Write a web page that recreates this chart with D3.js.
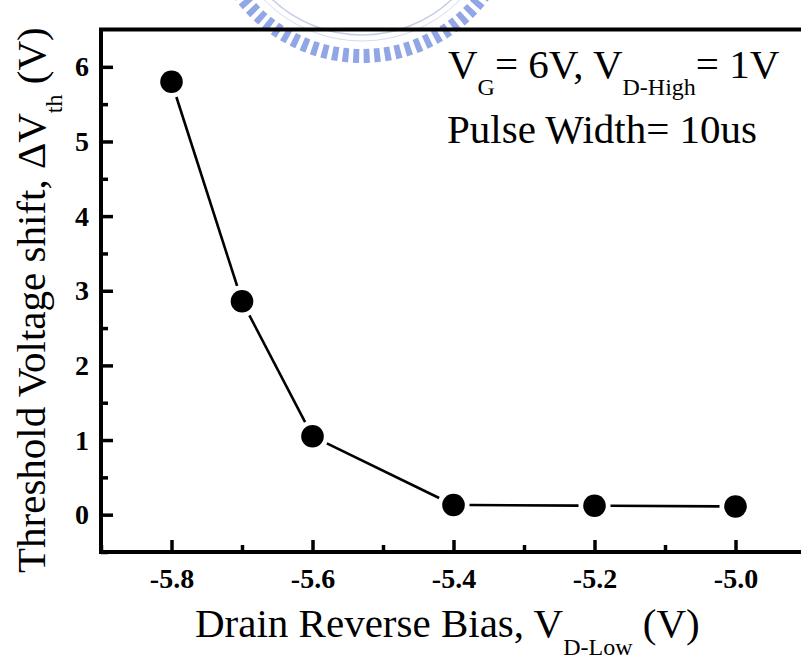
<!DOCTYPE html>
<html>
<head>
<meta charset="utf-8">
<script src="https://cdn.jsdelivr.net/npm/d3@7.9.0/dist/d3.min.js"></script>
<style>
  html, body { margin: 0; padding: 0; background: #fff; }
  svg { display: block; overflow: hidden; }
  .tick text { font-family: "Times New Roman", "Liberation Serif", serif; font-weight: bold; font-size: 28px; fill: #000; }
  .label { font-family: "Times New Roman", "Liberation Serif", serif; fill: #000; }
</style>
</head>
<body>
<svg id="chart" width="801" height="659"></svg>
<script>
// data
const drainLow = [-5.8, -5.7, -5.6, -5.4, -5.2, -5.0];
const deltaVth = [5.80, 2.86, 1.05, 0.13, 0.12, 0.11];

const xTicks = [-5.8, -5.6, -5.4, -5.2, -5.0];
const xMinor = [-5.9, -5.7, -5.5, -5.3, -5.1];
const yTicks = [0, 1, 2, 3, 4, 5, 6];
const yMinor = [-0.5, 0.5, 1.5, 2.5, 3.5, 4.5, 5.5];

const svg = d3.select("#chart");

const plotLeft = 101, plotRight = 806, plotTop = 29.5, plotBottom = 552;

const x = d3.scaleLinear().domain([-5.9, -4.9]).range([plotLeft, plotRight]);
const y = d3.scaleLinear().domain([-0.5, 6.5]).range([plotBottom, plotTop]);

// faint logo watermark (blue toothed ring, mostly cropped)
const wm = svg.append("g").attr("transform", "translate(362,-96)");
wm.append("circle").attr("r", 152)
  .attr("fill", "none")
  .attr("stroke", "#91a6e4")
  .attr("stroke-width", 14)
  .attr("stroke-dasharray", "6 4.5");
wm.append("circle").attr("r", 131)
  .attr("fill", "none")
  .attr("stroke", "#c6cde6")
  .attr("stroke-width", 1.5);
wm.append("circle").attr("r", 137)
  .attr("fill", "none")
  .attr("stroke", "#d6dbee")
  .attr("stroke-width", 1);

// minor ticks
svg.append("g")
  .attr("transform", `translate(0,${plotBottom})`)
  .call(d3.axisBottom(x).tickValues(xMinor).tickSize(-7).tickSizeOuter(0).tickFormat(""))
  .call(g => g.select(".domain").remove())
  .call(g => g.selectAll(".tick line").attr("stroke-width", 3.5));

svg.append("g")
  .attr("transform", `translate(${plotLeft},0)`)
  .call(d3.axisLeft(y).tickValues(yMinor).tickSize(-7).tickSizeOuter(0).tickFormat(""))
  .call(g => g.select(".domain").remove())
  .call(g => g.selectAll(".tick line").attr("stroke-width", 3.5));

// major axes
svg.append("g")
  .attr("transform", `translate(0,${plotBottom})`)
  .call(d3.axisBottom(x).tickValues(xTicks).tickSize(-12).tickSizeOuter(0).tickPadding(16)
    .tickFormat(d => d.toFixed(1)))
  .call(g => g.select(".domain").remove())
  .call(g => g.selectAll(".tick line").attr("stroke-width", 3.5));

svg.append("g")
  .attr("transform", `translate(${plotLeft},0)`)
  .call(d3.axisLeft(y).tickValues(yTicks).tickSize(-12).tickSizeOuter(0).tickPadding(12)
    .tickFormat(d => String(d)))
  .call(g => g.select(".domain").remove())
  .call(g => g.selectAll(".tick line").attr("stroke-width", 3.5));

// frame
svg.append("path")
  .attr("d", `M${plotRight},${plotTop}H${plotLeft}V${plotBottom}H${plotRight}`)
  .attr("fill", "none")
  .attr("stroke", "#000")
  .attr("stroke-width", 4);

// line segments with gaps around the markers
const pts = drainLow.map((d, i) => [x(d), y(deltaVth[i])]);
const r = 11.3, gap = 16;
const segs = d3.pairs(pts).map(([a, b]) => {
  const dx = b[0] - a[0], dy = b[1] - a[1];
  const len = Math.hypot(dx, dy);
  const ux = dx / len, uy = dy / len;
  return [a[0] + ux * gap, a[1] + uy * gap, b[0] - ux * gap, b[1] - uy * gap];
});

svg.append("g").selectAll("line")
  .data(segs)
  .join("line")
  .attr("x1", d => d[0]).attr("y1", d => d[1])
  .attr("x2", d => d[2]).attr("y2", d => d[3])
  .attr("stroke", "#000")
  .attr("stroke-width", 2.6);

svg.append("g").selectAll("circle")
  .data(pts)
  .join("circle")
  .attr("cx", d => d[0])
  .attr("cy", d => d[1])
  .attr("r", r)
  .attr("fill", "#000");

// annotation
const note = svg.append("text").attr("class", "label").attr("font-size", 41);
note.append("tspan").attr("x", 448).attr("y", 78).text("V");
note.append("tspan").attr("dy", 17).attr("font-size", 24).text("G");
note.append("tspan").attr("dy", -17).text("= 6V, V");
note.append("tspan").attr("dy", 17).attr("font-size", 24).text("D-High");
note.append("tspan").attr("dy", -17).text("= 1V");

svg.append("text").attr("class", "label")
  .attr("font-size", 41)
  .attr("x", 447).attr("y", 143)
  .text("Pulse Width= 10us");

// x title
const xt = svg.append("text").attr("class", "label").attr("font-size", 41)
  .attr("x", 195).attr("y", 637);
xt.append("tspan").text("Drain Reverse Bias, V");
xt.append("tspan").attr("dy", 18).attr("font-size", 24).text("D-Low");
xt.append("tspan").attr("dy", -18).text(" (V)");

// y title
const yt = svg.append("text").attr("class", "label").attr("font-size", 41)
  .attr("transform", "translate(45,573) rotate(-90)");
yt.append("tspan").text("Threshold Voltage shift, \u0394V");
yt.append("tspan").attr("dy", 17).attr("font-size", 24).text("th");
yt.append("tspan").attr("dy", -17).text(" (V)");
</script>
</body>
</html>
